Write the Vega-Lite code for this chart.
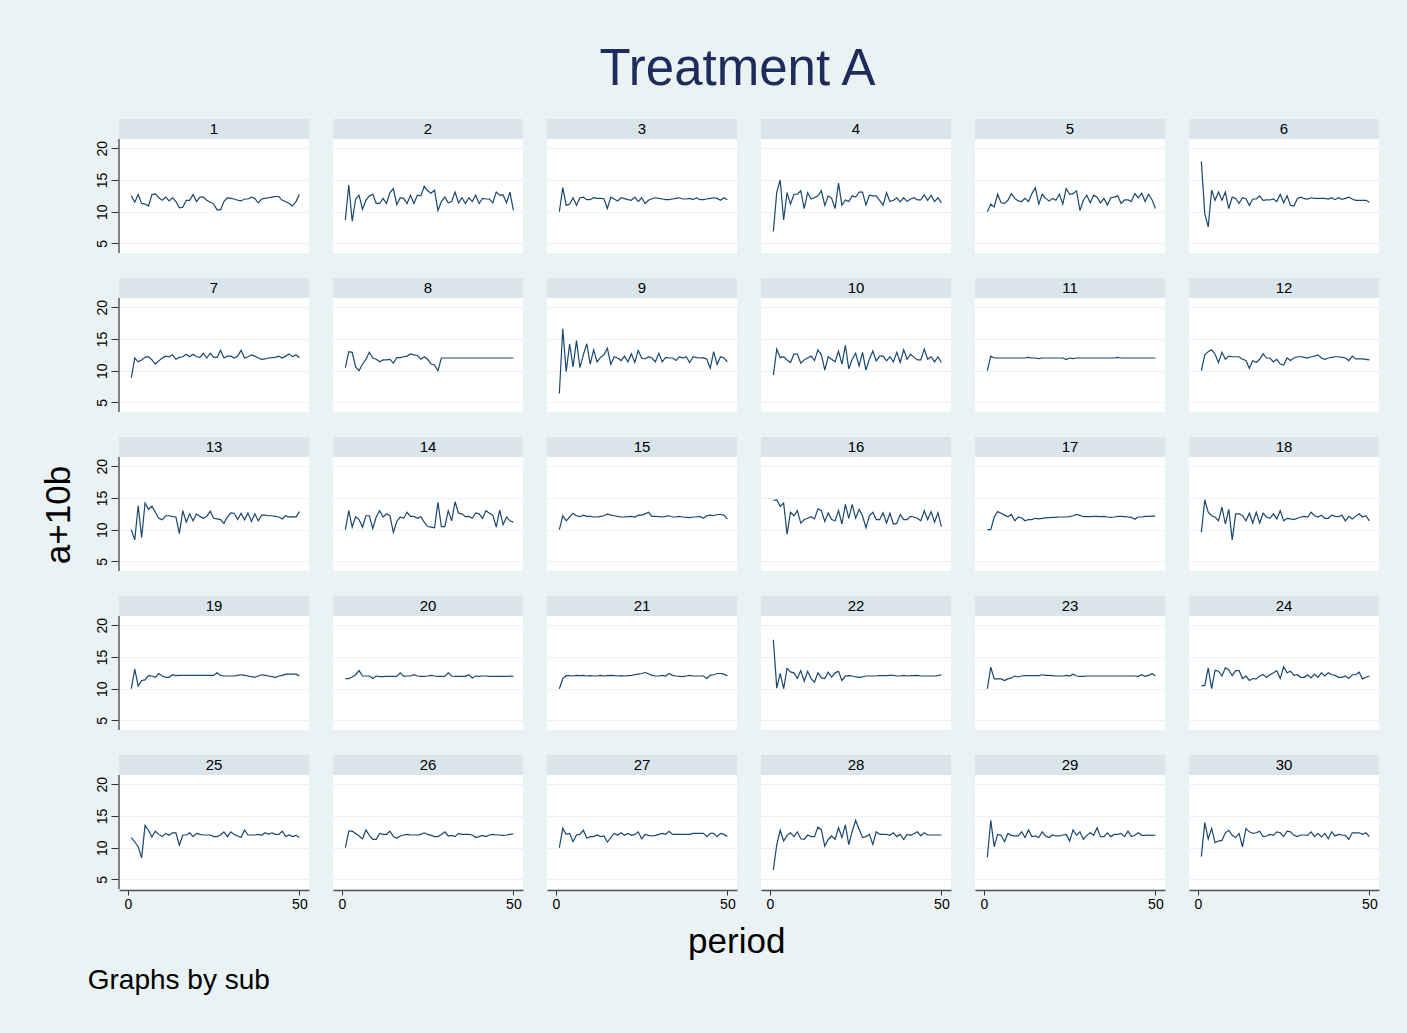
{
"$schema": "https://vega.github.io/schema/vega-lite/v6.json",
"background": "#eaf2f3",
"padding": {"left": 42, "top": 44, "right": 28, "bottom": 40},
"config": {
  "font": "Liberation Sans",
  "view": {"stroke": null, "fill": "#ffffff"},
  "axisY": {"grid": true, "gridColor": "#eaf2f3", "gridWidth": 1.2, "domain": false, "tickColor": "#333333", "tickSize": 7, "tickWidth": 1, "labelAngle": 270, "labelAlign": "center", "labelBaseline": "bottom", "labelFontSize": 14, "labelColor": "#000000", "labelPadding": 2},
  "axisX": {"grid": false, "domain": true, "domainColor": "#555555", "domainWidth": 1.5, "tickColor": "#333333", "tickSize": 5, "tickWidth": 1, "labelFontSize": 14, "labelColor": "#000000", "labelPadding": 2}
},
"title": {"text": "Treatment A", "fontSize": 51, "fontWeight": "normal", "color": "#1d2c5b", "anchor": "middle", "offset": 23, "dx": 27},
"data": {"values": [
{"sub":1,"period":1,"value":12.5},{"sub":1,"period":2,"value":11.5},{"sub":1,"period":3,"value":12.7},{"sub":1,"period":4,"value":11.3},{"sub":1,"period":5,"value":11.2},{"sub":1,"period":6,"value":10.9},{"sub":1,"period":7,"value":12.7},{"sub":1,"period":8,"value":12.8},{"sub":1,"period":9,"value":12.2},{"sub":1,"period":10,"value":11.8},
{"sub":1,"period":11,"value":12.3},{"sub":1,"period":12,"value":11.7},{"sub":1,"period":13,"value":12.2},{"sub":1,"period":14,"value":11.6},{"sub":1,"period":15,"value":10.6},{"sub":1,"period":16,"value":10.7},{"sub":1,"period":17,"value":11.8},{"sub":1,"period":18,"value":11.8},{"sub":1,"period":19,"value":12.7},{"sub":1,"period":20,"value":11.6},
{"sub":1,"period":21,"value":12.3},{"sub":1,"period":22,"value":12.3},{"sub":1,"period":23,"value":11.8},{"sub":1,"period":24,"value":11.5},{"sub":1,"period":25,"value":11.2},{"sub":1,"period":26,"value":10.3},{"sub":1,"period":27,"value":10.3},{"sub":1,"period":28,"value":11.6},{"sub":1,"period":29,"value":12.2},{"sub":1,"period":30,"value":12.1},
{"sub":1,"period":31,"value":12.0},{"sub":1,"period":32,"value":11.8},{"sub":1,"period":33,"value":11.7},{"sub":1,"period":34,"value":12.0},{"sub":1,"period":35,"value":12.0},{"sub":1,"period":36,"value":12.3},{"sub":1,"period":37,"value":12.1},{"sub":1,"period":38,"value":11.4},{"sub":1,"period":39,"value":12.0},{"sub":1,"period":40,"value":12.1},
{"sub":1,"period":41,"value":12.2},{"sub":1,"period":42,"value":12.3},{"sub":1,"period":43,"value":12.4},{"sub":1,"period":44,"value":12.4},{"sub":1,"period":45,"value":11.8},{"sub":1,"period":46,"value":11.6},{"sub":1,"period":47,"value":11.3},{"sub":1,"period":48,"value":10.9},{"sub":1,"period":49,"value":11.6},{"sub":1,"period":50,"value":12.7},
{"sub":2,"period":1,"value":8.7},{"sub":2,"period":2,"value":14.2},{"sub":2,"period":3,"value":8.5},{"sub":2,"period":4,"value":12.0},{"sub":2,"period":5,"value":12.6},{"sub":2,"period":6,"value":10.4},{"sub":2,"period":7,"value":11.8},{"sub":2,"period":8,"value":12.5},{"sub":2,"period":9,"value":12.75},{"sub":2,"period":10,"value":11.3},
{"sub":2,"period":11,"value":11.3},{"sub":2,"period":12,"value":12.1},{"sub":2,"period":13,"value":11.3},{"sub":2,"period":14,"value":13.0},{"sub":2,"period":15,"value":13.65},{"sub":2,"period":16,"value":11.1},{"sub":2,"period":17,"value":12.2},{"sub":2,"period":18,"value":12.1},{"sub":2,"period":19,"value":11.3},{"sub":2,"period":20,"value":12.6},
{"sub":2,"period":21,"value":11.3},{"sub":2,"period":22,"value":12.6},{"sub":2,"period":23,"value":12.5},{"sub":2,"period":24,"value":14.0},{"sub":2,"period":25,"value":13.3},{"sub":2,"period":26,"value":12.9},{"sub":2,"period":27,"value":13.4},{"sub":2,"period":28,"value":10.2},{"sub":2,"period":29,"value":11.6},{"sub":2,"period":30,"value":12.3},
{"sub":2,"period":31,"value":11.4},{"sub":2,"period":32,"value":11.6},{"sub":2,"period":33,"value":13.1},{"sub":2,"period":34,"value":11.4},{"sub":2,"period":35,"value":12.2},{"sub":2,"period":36,"value":11.3},{"sub":2,"period":37,"value":12.2},{"sub":2,"period":38,"value":11.6},{"sub":2,"period":39,"value":12.6},{"sub":2,"period":40,"value":11.3},
{"sub":2,"period":41,"value":12.1},{"sub":2,"period":42,"value":12.0},{"sub":2,"period":43,"value":12.0},{"sub":2,"period":44,"value":11.4},{"sub":2,"period":45,"value":13.1},{"sub":2,"period":46,"value":12.6},{"sub":2,"period":47,"value":12.65},{"sub":2,"period":48,"value":11.4},{"sub":2,"period":49,"value":13.1},{"sub":2,"period":50,"value":10.2},
{"sub":3,"period":1,"value":10.0},{"sub":3,"period":2,"value":13.8},{"sub":3,"period":3,"value":11.0},{"sub":3,"period":4,"value":11.2},{"sub":3,"period":5,"value":12.2},{"sub":3,"period":6,"value":11.0},{"sub":3,"period":7,"value":12.2},{"sub":3,"period":8,"value":12.3},{"sub":3,"period":9,"value":11.9},{"sub":3,"period":10,"value":11.9},
{"sub":3,"period":11,"value":12.2},{"sub":3,"period":12,"value":12.1},{"sub":3,"period":13,"value":12.1},{"sub":3,"period":14,"value":12.05},{"sub":3,"period":15,"value":10.5},{"sub":3,"period":16,"value":12.3},{"sub":3,"period":17,"value":12.0},{"sub":3,"period":18,"value":11.7},{"sub":3,"period":19,"value":12.2},{"sub":3,"period":20,"value":12.05},
{"sub":3,"period":21,"value":11.9},{"sub":3,"period":22,"value":11.8},{"sub":3,"period":23,"value":12.3},{"sub":3,"period":24,"value":11.6},{"sub":3,"period":25,"value":12.2},{"sub":3,"period":26,"value":11.3},{"sub":3,"period":27,"value":11.8},{"sub":3,"period":28,"value":12.05},{"sub":3,"period":29,"value":12.2},{"sub":3,"period":30,"value":12.1},
{"sub":3,"period":31,"value":12.0},{"sub":3,"period":32,"value":11.9},{"sub":3,"period":33,"value":11.9},{"sub":3,"period":34,"value":12.0},{"sub":3,"period":35,"value":12.1},{"sub":3,"period":36,"value":12.2},{"sub":3,"period":37,"value":12.0},{"sub":3,"period":38,"value":12.0},{"sub":3,"period":39,"value":12.1},{"sub":3,"period":40,"value":11.9},
{"sub":3,"period":41,"value":12.2},{"sub":3,"period":42,"value":11.9},{"sub":3,"period":43,"value":11.9},{"sub":3,"period":44,"value":12.0},{"sub":3,"period":45,"value":12.1},{"sub":3,"period":46,"value":12.2},{"sub":3,"period":47,"value":12.1},{"sub":3,"period":48,"value":11.8},{"sub":3,"period":49,"value":12.2},{"sub":3,"period":50,"value":11.9},
{"sub":4,"period":1,"value":6.9},{"sub":4,"period":2,"value":13.1},{"sub":4,"period":3,"value":15.0},{"sub":4,"period":4,"value":8.7},{"sub":4,"period":5,"value":13.0},{"sub":4,"period":6,"value":11.2},{"sub":4,"period":7,"value":12.75},{"sub":4,"period":8,"value":12.75},{"sub":4,"period":9,"value":13.3},{"sub":4,"period":10,"value":10.5},
{"sub":4,"period":11,"value":13.0},{"sub":4,"period":12,"value":12.0},{"sub":4,"period":13,"value":12.2},{"sub":4,"period":14,"value":12.5},{"sub":4,"period":15,"value":13.3},{"sub":4,"period":16,"value":11.0},{"sub":4,"period":17,"value":12.5},{"sub":4,"period":18,"value":12.1},{"sub":4,"period":19,"value":10.5},{"sub":4,"period":20,"value":14.5},
{"sub":4,"period":21,"value":11.0},{"sub":4,"period":22,"value":11.85},{"sub":4,"period":23,"value":11.6},{"sub":4,"period":24,"value":12.5},{"sub":4,"period":25,"value":12.3},{"sub":4,"period":26,"value":13.1},{"sub":4,"period":27,"value":13.1},{"sub":4,"period":28,"value":11.05},{"sub":4,"period":29,"value":12.6},{"sub":4,"period":30,"value":12.5},
{"sub":4,"period":31,"value":12.5},{"sub":4,"period":32,"value":11.8},{"sub":4,"period":33,"value":11.05},{"sub":4,"period":34,"value":13.0},{"sub":4,"period":35,"value":11.6},{"sub":4,"period":36,"value":11.8},{"sub":4,"period":37,"value":12.2},{"sub":4,"period":38,"value":11.55},{"sub":4,"period":39,"value":12.2},{"sub":4,"period":40,"value":11.6},
{"sub":4,"period":41,"value":12.0},{"sub":4,"period":42,"value":12.2},{"sub":4,"period":43,"value":11.85},{"sub":4,"period":44,"value":11.85},{"sub":4,"period":45,"value":12.65},{"sub":4,"period":46,"value":11.8},{"sub":4,"period":47,"value":12.6},{"sub":4,"period":48,"value":11.6},{"sub":4,"period":49,"value":12.2},{"sub":4,"period":50,"value":11.4},
{"sub":5,"period":1,"value":10.0},{"sub":5,"period":2,"value":11.2},{"sub":5,"period":3,"value":10.75},{"sub":5,"period":4,"value":12.75},{"sub":5,"period":5,"value":11.4},{"sub":5,"period":6,"value":11.3},{"sub":5,"period":7,"value":11.8},{"sub":5,"period":8,"value":12.85},{"sub":5,"period":9,"value":12.1},{"sub":5,"period":10,"value":11.7},
{"sub":5,"period":11,"value":11.6},{"sub":5,"period":12,"value":12.1},{"sub":5,"period":13,"value":11.6},{"sub":5,"period":14,"value":12.85},{"sub":5,"period":15,"value":13.8},{"sub":5,"period":16,"value":11.2},{"sub":5,"period":17,"value":12.75},{"sub":5,"period":18,"value":12.1},{"sub":5,"period":19,"value":11.7},{"sub":5,"period":20,"value":12.1},
{"sub":5,"period":21,"value":11.8},{"sub":5,"period":22,"value":12.75},{"sub":5,"period":23,"value":11.2},{"sub":5,"period":24,"value":13.65},{"sub":5,"period":25,"value":12.75},{"sub":5,"period":26,"value":12.85},{"sub":5,"period":27,"value":13.3},{"sub":5,"period":28,"value":10.2},{"sub":5,"period":29,"value":11.8},{"sub":5,"period":30,"value":12.6},
{"sub":5,"period":31,"value":11.4},{"sub":5,"period":32,"value":12.6},{"sub":5,"period":33,"value":12.3},{"sub":5,"period":34,"value":11.4},{"sub":5,"period":35,"value":12.1},{"sub":5,"period":36,"value":11.05},{"sub":5,"period":37,"value":12.2},{"sub":5,"period":38,"value":12.3},{"sub":5,"period":39,"value":12.5},{"sub":5,"period":40,"value":11.3},
{"sub":5,"period":41,"value":11.85},{"sub":5,"period":42,"value":11.85},{"sub":5,"period":43,"value":11.6},{"sub":5,"period":44,"value":12.85},{"sub":5,"period":45,"value":12.2},{"sub":5,"period":46,"value":12.9},{"sub":5,"period":47,"value":11.6},{"sub":5,"period":48,"value":12.75},{"sub":5,"period":49,"value":11.9},{"sub":5,"period":50,"value":10.5},
{"sub":6,"period":1,"value":17.9},{"sub":6,"period":2,"value":9.7},{"sub":6,"period":3,"value":7.6},{"sub":6,"period":4,"value":13.4},{"sub":6,"period":5,"value":11.8},{"sub":6,"period":6,"value":13.1},{"sub":6,"period":7,"value":11.8},{"sub":6,"period":8,"value":13.1},{"sub":6,"period":9,"value":10.5},{"sub":6,"period":10,"value":12.3},
{"sub":6,"period":11,"value":12.1},{"sub":6,"period":12,"value":11.3},{"sub":6,"period":13,"value":12.2},{"sub":6,"period":14,"value":12.05},{"sub":6,"period":15,"value":11.0},{"sub":6,"period":16,"value":12.0},{"sub":6,"period":17,"value":12.0},{"sub":6,"period":18,"value":12.5},{"sub":6,"period":19,"value":11.8},{"sub":6,"period":20,"value":11.85},
{"sub":6,"period":21,"value":11.85},{"sub":6,"period":22,"value":12.0},{"sub":6,"period":23,"value":11.6},{"sub":6,"period":24,"value":12.75},{"sub":6,"period":25,"value":11.4},{"sub":6,"period":26,"value":12.5},{"sub":6,"period":27,"value":11.0},{"sub":6,"period":28,"value":10.9},{"sub":6,"period":29,"value":12.1},{"sub":6,"period":30,"value":12.3},
{"sub":6,"period":31,"value":12.05},{"sub":6,"period":32,"value":12.0},{"sub":6,"period":33,"value":12.2},{"sub":6,"period":34,"value":12.1},{"sub":6,"period":35,"value":12.1},{"sub":6,"period":36,"value":12.1},{"sub":6,"period":37,"value":12.1},{"sub":6,"period":38,"value":12.0},{"sub":6,"period":39,"value":12.2},{"sub":6,"period":40,"value":11.9},
{"sub":6,"period":41,"value":12.2},{"sub":6,"period":42,"value":11.95},{"sub":6,"period":43,"value":12.1},{"sub":6,"period":44,"value":12.3},{"sub":6,"period":45,"value":12.0},{"sub":6,"period":46,"value":11.8},{"sub":6,"period":47,"value":11.8},{"sub":6,"period":48,"value":11.8},{"sub":6,"period":49,"value":11.8},{"sub":6,"period":50,"value":11.5},
{"sub":7,"period":1,"value":8.9},{"sub":7,"period":2,"value":12.0},{"sub":7,"period":3,"value":11.4},{"sub":7,"period":4,"value":11.7},{"sub":7,"period":5,"value":12.1},{"sub":7,"period":6,"value":12.2},{"sub":7,"period":7,"value":11.7},{"sub":7,"period":8,"value":11.05},{"sub":7,"period":9,"value":11.55},{"sub":7,"period":10,"value":12.0},
{"sub":7,"period":11,"value":12.3},{"sub":7,"period":12,"value":12.2},{"sub":7,"period":13,"value":12.5},{"sub":7,"period":14,"value":11.8},{"sub":7,"period":15,"value":12.1},{"sub":7,"period":16,"value":12.2},{"sub":7,"period":17,"value":12.6},{"sub":7,"period":18,"value":12.2},{"sub":7,"period":19,"value":12.6},{"sub":7,"period":20,"value":12.2},
{"sub":7,"period":21,"value":12.1},{"sub":7,"period":22,"value":12.75},{"sub":7,"period":23,"value":12.0},{"sub":7,"period":24,"value":12.75},{"sub":7,"period":25,"value":12.1},{"sub":7,"period":26,"value":12.1},{"sub":7,"period":27,"value":13.2},{"sub":7,"period":28,"value":12.0},{"sub":7,"period":29,"value":12.3},{"sub":7,"period":30,"value":12.3},
{"sub":7,"period":31,"value":12.0},{"sub":7,"period":32,"value":12.3},{"sub":7,"period":33,"value":13.2},{"sub":7,"period":34,"value":12.0},{"sub":7,"period":35,"value":12.2},{"sub":7,"period":36,"value":12.5},{"sub":7,"period":37,"value":12.3},{"sub":7,"period":38,"value":12.0},{"sub":7,"period":39,"value":11.8},{"sub":7,"period":40,"value":11.85},
{"sub":7,"period":41,"value":12.0},{"sub":7,"period":42,"value":12.05},{"sub":7,"period":43,"value":12.1},{"sub":7,"period":44,"value":12.3},{"sub":7,"period":45,"value":12.0},{"sub":7,"period":46,"value":12.3},{"sub":7,"period":47,"value":12.65},{"sub":7,"period":48,"value":12.2},{"sub":7,"period":49,"value":12.5},{"sub":7,"period":50,"value":12.05},
{"sub":8,"period":1,"value":10.5},{"sub":8,"period":2,"value":13.0},{"sub":8,"period":3,"value":12.9},{"sub":8,"period":4,"value":10.6},{"sub":8,"period":5,"value":10.0},{"sub":8,"period":6,"value":11.05},{"sub":8,"period":7,"value":11.8},{"sub":8,"period":8,"value":12.9},{"sub":8,"period":9,"value":12.0},{"sub":8,"period":10,"value":11.8},
{"sub":8,"period":11,"value":11.4},{"sub":8,"period":12,"value":11.7},{"sub":8,"period":13,"value":11.7},{"sub":8,"period":14,"value":11.8},{"sub":8,"period":15,"value":11.2},{"sub":8,"period":16,"value":12.05},{"sub":8,"period":17,"value":12.05},{"sub":8,"period":18,"value":12.2},{"sub":8,"period":19,"value":12.3},{"sub":8,"period":20,"value":12.65},
{"sub":8,"period":21,"value":12.5},{"sub":8,"period":22,"value":12.4},{"sub":8,"period":23,"value":11.8},{"sub":8,"period":24,"value":12.2},{"sub":8,"period":25,"value":11.8},{"sub":8,"period":26,"value":11.05},{"sub":8,"period":27,"value":10.9},{"sub":8,"period":28,"value":10.0},{"sub":8,"period":29,"value":12.0},{"sub":8,"period":30,"value":12.0},
{"sub":8,"period":31,"value":12.0},{"sub":8,"period":32,"value":12.0},{"sub":8,"period":33,"value":12.0},{"sub":8,"period":34,"value":12.0},{"sub":8,"period":35,"value":12.0},{"sub":8,"period":36,"value":12.0},{"sub":8,"period":37,"value":12.0},{"sub":8,"period":38,"value":12.0},{"sub":8,"period":39,"value":12.0},{"sub":8,"period":40,"value":12.0},
{"sub":8,"period":41,"value":12.0},{"sub":8,"period":42,"value":12.0},{"sub":8,"period":43,"value":12.0},{"sub":8,"period":44,"value":12.0},{"sub":8,"period":45,"value":12.0},{"sub":8,"period":46,"value":12.0},{"sub":8,"period":47,"value":12.0},{"sub":8,"period":48,"value":12.0},{"sub":8,"period":49,"value":12.0},{"sub":8,"period":50,"value":12.0},
{"sub":9,"period":1,"value":6.4},{"sub":9,"period":2,"value":16.6},{"sub":9,"period":3,"value":9.85},{"sub":9,"period":4,"value":14.2},{"sub":9,"period":5,"value":10.6},{"sub":9,"period":6,"value":14.75},{"sub":9,"period":7,"value":10.5},{"sub":9,"period":8,"value":12.5},{"sub":9,"period":9,"value":14.25},{"sub":9,"period":10,"value":11.05},
{"sub":9,"period":11,"value":13.3},{"sub":9,"period":12,"value":11.4},{"sub":9,"period":13,"value":12.1},{"sub":9,"period":14,"value":12.5},{"sub":9,"period":15,"value":13.55},{"sub":9,"period":16,"value":11.0},{"sub":9,"period":17,"value":12.2},{"sub":9,"period":18,"value":12.0},{"sub":9,"period":19,"value":11.6},{"sub":9,"period":20,"value":12.3},
{"sub":9,"period":21,"value":11.4},{"sub":9,"period":22,"value":12.65},{"sub":9,"period":23,"value":11.3},{"sub":9,"period":24,"value":13.2},{"sub":9,"period":25,"value":12.0},{"sub":9,"period":26,"value":11.85},{"sub":9,"period":27,"value":12.2},{"sub":9,"period":28,"value":12.0},{"sub":9,"period":29,"value":11.4},{"sub":9,"period":30,"value":12.75},
{"sub":9,"period":31,"value":11.4},{"sub":9,"period":32,"value":12.1},{"sub":9,"period":33,"value":12.0},{"sub":9,"period":34,"value":12.0},{"sub":9,"period":35,"value":11.6},{"sub":9,"period":36,"value":12.2},{"sub":9,"period":37,"value":12.0},{"sub":9,"period":38,"value":12.2},{"sub":9,"period":39,"value":11.3},{"sub":9,"period":40,"value":12.2},
{"sub":9,"period":41,"value":12.05},{"sub":9,"period":42,"value":12.0},{"sub":9,"period":43,"value":12.05},{"sub":9,"period":44,"value":11.8},{"sub":9,"period":45,"value":10.4},{"sub":9,"period":46,"value":13.0},{"sub":9,"period":47,"value":11.0},{"sub":9,"period":48,"value":12.2},{"sub":9,"period":49,"value":12.0},{"sub":9,"period":50,"value":11.4},
{"sub":10,"period":1,"value":9.3},{"sub":10,"period":2,"value":13.4},{"sub":10,"period":3,"value":12.05},{"sub":10,"period":4,"value":12.2},{"sub":10,"period":5,"value":11.7},{"sub":10,"period":6,"value":11.3},{"sub":10,"period":7,"value":12.6},{"sub":10,"period":8,"value":12.6},{"sub":10,"period":9,"value":11.2},{"sub":10,"period":10,"value":11.7},
{"sub":10,"period":11,"value":12.0},{"sub":10,"period":12,"value":12.3},{"sub":10,"period":13,"value":11.6},{"sub":10,"period":14,"value":13.3},{"sub":10,"period":15,"value":12.5},{"sub":10,"period":16,"value":10.1},{"sub":10,"period":17,"value":12.2},{"sub":10,"period":18,"value":11.8},{"sub":10,"period":19,"value":11.4},{"sub":10,"period":20,"value":13.1},
{"sub":10,"period":21,"value":11.05},{"sub":10,"period":22,"value":14.0},{"sub":10,"period":23,"value":10.3},{"sub":10,"period":24,"value":11.8},{"sub":10,"period":25,"value":12.75},{"sub":10,"period":26,"value":10.75},{"sub":10,"period":27,"value":12.9},{"sub":10,"period":28,"value":10.1},{"sub":10,"period":29,"value":11.8},{"sub":10,"period":30,"value":13.1},
{"sub":10,"period":31,"value":11.55},{"sub":10,"period":32,"value":12.3},{"sub":10,"period":33,"value":12.3},{"sub":10,"period":34,"value":11.55},{"sub":10,"period":35,"value":12.2},{"sub":10,"period":36,"value":11.4},{"sub":10,"period":37,"value":12.9},{"sub":10,"period":38,"value":11.3},{"sub":10,"period":39,"value":13.3},{"sub":10,"period":40,"value":11.8},
{"sub":10,"period":41,"value":12.6},{"sub":10,"period":42,"value":12.1},{"sub":10,"period":43,"value":11.7},{"sub":10,"period":44,"value":11.7},{"sub":10,"period":45,"value":13.4},{"sub":10,"period":46,"value":11.8},{"sub":10,"period":47,"value":12.2},{"sub":10,"period":48,"value":11.4},{"sub":10,"period":49,"value":12.2},{"sub":10,"period":50,"value":11.3},
{"sub":11,"period":1,"value":10.0},{"sub":11,"period":2,"value":12.3},{"sub":11,"period":3,"value":12.0},{"sub":11,"period":4,"value":12.0},{"sub":11,"period":5,"value":12.0},{"sub":11,"period":6,"value":12.0},{"sub":11,"period":7,"value":12.0},{"sub":11,"period":8,"value":12.0},{"sub":11,"period":9,"value":12.0},{"sub":11,"period":10,"value":12.0},
{"sub":11,"period":11,"value":12.0},{"sub":11,"period":12,"value":12.0},{"sub":11,"period":13,"value":12.1},{"sub":11,"period":14,"value":12.0},{"sub":11,"period":15,"value":12.0},{"sub":11,"period":16,"value":11.9},{"sub":11,"period":17,"value":12.0},{"sub":11,"period":18,"value":12.0},{"sub":11,"period":19,"value":12.0},{"sub":11,"period":20,"value":12.0},
{"sub":11,"period":21,"value":12.0},{"sub":11,"period":22,"value":12.0},{"sub":11,"period":23,"value":12.0},{"sub":11,"period":24,"value":11.75},{"sub":11,"period":25,"value":12.0},{"sub":11,"period":26,"value":11.9},{"sub":11,"period":27,"value":12.0},{"sub":11,"period":28,"value":12.0},{"sub":11,"period":29,"value":12.0},{"sub":11,"period":30,"value":12.0},
{"sub":11,"period":31,"value":12.0},{"sub":11,"period":32,"value":12.0},{"sub":11,"period":33,"value":12.0},{"sub":11,"period":34,"value":12.0},{"sub":11,"period":35,"value":12.0},{"sub":11,"period":36,"value":12.0},{"sub":11,"period":37,"value":12.0},{"sub":11,"period":38,"value":12.0},{"sub":11,"period":39,"value":12.1},{"sub":11,"period":40,"value":12.0},
{"sub":11,"period":41,"value":12.0},{"sub":11,"period":42,"value":12.0},{"sub":11,"period":43,"value":12.0},{"sub":11,"period":44,"value":12.0},{"sub":11,"period":45,"value":12.0},{"sub":11,"period":46,"value":12.0},{"sub":11,"period":47,"value":12.0},{"sub":11,"period":48,"value":12.0},{"sub":11,"period":49,"value":12.0},{"sub":11,"period":50,"value":12.0},
{"sub":12,"period":1,"value":10.0},{"sub":12,"period":2,"value":12.5},{"sub":12,"period":3,"value":13.0},{"sub":12,"period":4,"value":13.3},{"sub":12,"period":5,"value":12.6},{"sub":12,"period":6,"value":11.3},{"sub":12,"period":7,"value":12.9},{"sub":12,"period":8,"value":11.8},{"sub":12,"period":9,"value":12.3},{"sub":12,"period":10,"value":12.2},
{"sub":12,"period":11,"value":12.2},{"sub":12,"period":12,"value":12.2},{"sub":12,"period":13,"value":11.8},{"sub":12,"period":14,"value":11.6},{"sub":12,"period":15,"value":10.4},{"sub":12,"period":16,"value":11.6},{"sub":12,"period":17,"value":11.3},{"sub":12,"period":18,"value":11.8},{"sub":12,"period":19,"value":12.65},{"sub":12,"period":20,"value":12.0},
{"sub":12,"period":21,"value":12.0},{"sub":12,"period":22,"value":11.4},{"sub":12,"period":23,"value":11.8},{"sub":12,"period":24,"value":11.05},{"sub":12,"period":25,"value":10.9},{"sub":12,"period":26,"value":12.0},{"sub":12,"period":27,"value":11.6},{"sub":12,"period":28,"value":12.0},{"sub":12,"period":29,"value":12.2},{"sub":12,"period":30,"value":12.2},
{"sub":12,"period":31,"value":12.1},{"sub":12,"period":32,"value":12.0},{"sub":12,"period":33,"value":12.2},{"sub":12,"period":34,"value":12.3},{"sub":12,"period":35,"value":12.5},{"sub":12,"period":36,"value":12.0},{"sub":12,"period":37,"value":11.8},{"sub":12,"period":38,"value":12.0},{"sub":12,"period":39,"value":12.1},{"sub":12,"period":40,"value":12.2},
{"sub":12,"period":41,"value":12.2},{"sub":12,"period":42,"value":12.1},{"sub":12,"period":43,"value":12.0},{"sub":12,"period":44,"value":11.6},{"sub":12,"period":45,"value":12.3},{"sub":12,"period":46,"value":11.85},{"sub":12,"period":47,"value":11.85},{"sub":12,"period":48,"value":11.85},{"sub":12,"period":49,"value":11.8},{"sub":12,"period":50,"value":11.7},
{"sub":13,"period":1,"value":10.0},{"sub":13,"period":2,"value":8.4},{"sub":13,"period":3,"value":13.8},{"sub":13,"period":4,"value":8.8},{"sub":13,"period":5,"value":14.2},{"sub":13,"period":6,"value":13.2},{"sub":13,"period":7,"value":13.7},{"sub":13,"period":8,"value":12.75},{"sub":13,"period":9,"value":11.8},{"sub":13,"period":10,"value":11.55},
{"sub":13,"period":11,"value":12.2},{"sub":13,"period":12,"value":12.2},{"sub":13,"period":13,"value":12.05},{"sub":13,"period":14,"value":12.0},{"sub":13,"period":15,"value":9.4},{"sub":13,"period":16,"value":13.0},{"sub":13,"period":17,"value":11.2},{"sub":13,"period":18,"value":12.5},{"sub":13,"period":19,"value":11.4},{"sub":13,"period":20,"value":12.5},
{"sub":13,"period":21,"value":12.1},{"sub":13,"period":22,"value":11.8},{"sub":13,"period":23,"value":12.1},{"sub":13,"period":24,"value":12.9},{"sub":13,"period":25,"value":11.8},{"sub":13,"period":26,"value":11.7},{"sub":13,"period":27,"value":11.6},{"sub":13,"period":28,"value":11.0},{"sub":13,"period":29,"value":12.0},{"sub":13,"period":30,"value":12.65},
{"sub":13,"period":31,"value":12.6},{"sub":13,"period":32,"value":11.6},{"sub":13,"period":33,"value":12.6},{"sub":13,"period":34,"value":11.55},{"sub":13,"period":35,"value":12.65},{"sub":13,"period":36,"value":11.3},{"sub":13,"period":37,"value":12.5},{"sub":13,"period":38,"value":11.4},{"sub":13,"period":39,"value":12.3},{"sub":13,"period":40,"value":12.3},
{"sub":13,"period":41,"value":12.2},{"sub":13,"period":42,"value":12.2},{"sub":13,"period":43,"value":12.1},{"sub":13,"period":44,"value":12.0},{"sub":13,"period":45,"value":11.7},{"sub":13,"period":46,"value":12.2},{"sub":13,"period":47,"value":12.0},{"sub":13,"period":48,"value":12.05},{"sub":13,"period":49,"value":12.0},{"sub":13,"period":50,"value":12.85},
{"sub":14,"period":1,"value":10.0},{"sub":14,"period":2,"value":13.0},{"sub":14,"period":3,"value":10.4},{"sub":14,"period":4,"value":12.05},{"sub":14,"period":5,"value":11.6},{"sub":14,"period":6,"value":10.4},{"sub":14,"period":7,"value":12.2},{"sub":14,"period":8,"value":12.2},{"sub":14,"period":9,"value":10.2},{"sub":14,"period":10,"value":12.0},
{"sub":14,"period":11,"value":13.0},{"sub":14,"period":12,"value":12.0},{"sub":14,"period":13,"value":12.5},{"sub":14,"period":14,"value":12.2},{"sub":14,"period":15,"value":9.6},{"sub":14,"period":16,"value":11.3},{"sub":14,"period":17,"value":12.0},{"sub":14,"period":18,"value":11.8},{"sub":14,"period":19,"value":12.75},{"sub":14,"period":20,"value":12.1},
{"sub":14,"period":21,"value":12.1},{"sub":14,"period":22,"value":11.8},{"sub":14,"period":23,"value":12.05},{"sub":14,"period":24,"value":11.2},{"sub":14,"period":25,"value":10.5},{"sub":14,"period":26,"value":10.4},{"sub":14,"period":27,"value":10.3},{"sub":14,"period":28,"value":14.3},{"sub":14,"period":29,"value":10.5},{"sub":14,"period":30,"value":10.5},
{"sub":14,"period":31,"value":13.0},{"sub":14,"period":32,"value":11.4},{"sub":14,"period":33,"value":14.4},{"sub":14,"period":34,"value":12.6},{"sub":14,"period":35,"value":12.5},{"sub":14,"period":36,"value":12.05},{"sub":14,"period":37,"value":12.1},{"sub":14,"period":38,"value":11.8},{"sub":14,"period":39,"value":12.65},{"sub":14,"period":40,"value":12.5},
{"sub":14,"period":41,"value":11.8},{"sub":14,"period":42,"value":13.0},{"sub":14,"period":43,"value":12.6},{"sub":14,"period":44,"value":12.3},{"sub":14,"period":45,"value":10.4},{"sub":14,"period":46,"value":13.1},{"sub":14,"period":47,"value":10.8},{"sub":14,"period":48,"value":12.0},{"sub":14,"period":49,"value":11.4},{"sub":14,"period":50,"value":11.2},
{"sub":15,"period":1,"value":10.0},{"sub":15,"period":2,"value":12.2},{"sub":15,"period":3,"value":11.4},{"sub":15,"period":4,"value":12.0},{"sub":15,"period":5,"value":12.6},{"sub":15,"period":6,"value":12.2},{"sub":15,"period":7,"value":12.05},{"sub":15,"period":8,"value":12.3},{"sub":15,"period":9,"value":12.1},{"sub":15,"period":10,"value":12.1},
{"sub":15,"period":11,"value":12.0},{"sub":15,"period":12,"value":12.0},{"sub":15,"period":13,"value":12.1},{"sub":15,"period":14,"value":12.2},{"sub":15,"period":15,"value":12.5},{"sub":15,"period":16,"value":12.3},{"sub":15,"period":17,"value":12.2},{"sub":15,"period":18,"value":12.1},{"sub":15,"period":19,"value":12.0},{"sub":15,"period":20,"value":12.0},
{"sub":15,"period":21,"value":12.05},{"sub":15,"period":22,"value":12.1},{"sub":15,"period":23,"value":12.0},{"sub":15,"period":24,"value":12.3},{"sub":15,"period":25,"value":12.3},{"sub":15,"period":26,"value":12.5},{"sub":15,"period":27,"value":12.75},{"sub":15,"period":28,"value":12.1},{"sub":15,"period":29,"value":12.1},{"sub":15,"period":30,"value":12.05},
{"sub":15,"period":31,"value":12.0},{"sub":15,"period":32,"value":12.1},{"sub":15,"period":33,"value":12.2},{"sub":15,"period":34,"value":12.0},{"sub":15,"period":35,"value":12.0},{"sub":15,"period":36,"value":12.1},{"sub":15,"period":37,"value":12.0},{"sub":15,"period":38,"value":11.95},{"sub":15,"period":39,"value":11.9},{"sub":15,"period":40,"value":12.0},
{"sub":15,"period":41,"value":12.0},{"sub":15,"period":42,"value":12.1},{"sub":15,"period":43,"value":11.8},{"sub":15,"period":44,"value":12.2},{"sub":15,"period":45,"value":12.3},{"sub":15,"period":46,"value":12.2},{"sub":15,"period":47,"value":12.4},{"sub":15,"period":48,"value":12.4},{"sub":15,"period":49,"value":12.3},{"sub":15,"period":50,"value":11.7},
{"sub":16,"period":1,"value":14.6},{"sub":16,"period":2,"value":14.7},{"sub":16,"period":3,"value":13.7},{"sub":16,"period":4,"value":14.2},{"sub":16,"period":5,"value":9.3},{"sub":16,"period":6,"value":12.75},{"sub":16,"period":7,"value":12.2},{"sub":16,"period":8,"value":13.0},{"sub":16,"period":9,"value":11.05},{"sub":16,"period":10,"value":11.6},
{"sub":16,"period":11,"value":11.8},{"sub":16,"period":12,"value":12.05},{"sub":16,"period":13,"value":11.7},{"sub":16,"period":14,"value":13.3},{"sub":16,"period":15,"value":13.0},{"sub":16,"period":16,"value":11.3},{"sub":16,"period":17,"value":12.65},{"sub":16,"period":18,"value":11.6},{"sub":16,"period":19,"value":11.4},{"sub":16,"period":20,"value":13.0},
{"sub":16,"period":21,"value":10.9},{"sub":16,"period":22,"value":14.0},{"sub":16,"period":23,"value":11.8},{"sub":16,"period":24,"value":14.0},{"sub":16,"period":25,"value":11.8},{"sub":16,"period":26,"value":13.2},{"sub":16,"period":27,"value":12.2},{"sub":16,"period":28,"value":10.3},{"sub":16,"period":29,"value":12.2},{"sub":16,"period":30,"value":12.75},
{"sub":16,"period":31,"value":11.6},{"sub":16,"period":32,"value":11.6},{"sub":16,"period":33,"value":12.65},{"sub":16,"period":34,"value":11.05},{"sub":16,"period":35,"value":12.6},{"sub":16,"period":36,"value":10.9},{"sub":16,"period":37,"value":11.0},{"sub":16,"period":38,"value":12.4},{"sub":16,"period":39,"value":11.6},{"sub":16,"period":40,"value":11.6},
{"sub":16,"period":41,"value":12.1},{"sub":16,"period":42,"value":12.0},{"sub":16,"period":43,"value":11.8},{"sub":16,"period":44,"value":11.4},{"sub":16,"period":45,"value":13.0},{"sub":16,"period":46,"value":11.6},{"sub":16,"period":47,"value":12.85},{"sub":16,"period":48,"value":11.2},{"sub":16,"period":49,"value":12.65},{"sub":16,"period":50,"value":10.5},
{"sub":17,"period":1,"value":10.0},{"sub":17,"period":2,"value":10.0},{"sub":17,"period":3,"value":12.0},{"sub":17,"period":4,"value":12.85},{"sub":17,"period":5,"value":12.6},{"sub":17,"period":6,"value":12.3},{"sub":17,"period":7,"value":12.05},{"sub":17,"period":8,"value":12.4},{"sub":17,"period":9,"value":11.4},{"sub":17,"period":10,"value":12.0},
{"sub":17,"period":11,"value":11.85},{"sub":17,"period":12,"value":11.4},{"sub":17,"period":13,"value":11.6},{"sub":17,"period":14,"value":11.6},{"sub":17,"period":15,"value":11.8},{"sub":17,"period":16,"value":11.7},{"sub":17,"period":17,"value":11.8},{"sub":17,"period":18,"value":11.85},{"sub":17,"period":19,"value":11.9},{"sub":17,"period":20,"value":11.95},
{"sub":17,"period":21,"value":11.95},{"sub":17,"period":22,"value":12.0},{"sub":17,"period":23,"value":12.0},{"sub":17,"period":24,"value":12.0},{"sub":17,"period":25,"value":12.05},{"sub":17,"period":26,"value":12.2},{"sub":17,"period":27,"value":12.4},{"sub":17,"period":28,"value":12.25},{"sub":17,"period":29,"value":12.05},{"sub":17,"period":30,"value":12.05},
{"sub":17,"period":31,"value":12.05},{"sub":17,"period":32,"value":12.1},{"sub":17,"period":33,"value":12.1},{"sub":17,"period":34,"value":12.05},{"sub":17,"period":35,"value":12.1},{"sub":17,"period":36,"value":12.0},{"sub":17,"period":37,"value":11.95},{"sub":17,"period":38,"value":12.0},{"sub":17,"period":39,"value":12.1},{"sub":17,"period":40,"value":12.1},
{"sub":17,"period":41,"value":12.05},{"sub":17,"period":42,"value":12.0},{"sub":17,"period":43,"value":11.95},{"sub":17,"period":44,"value":11.65},{"sub":17,"period":45,"value":12.0},{"sub":17,"period":46,"value":12.0},{"sub":17,"period":47,"value":12.1},{"sub":17,"period":48,"value":12.1},{"sub":17,"period":49,"value":12.15},{"sub":17,"period":50,"value":12.15},
{"sub":18,"period":1,"value":9.6},{"sub":18,"period":2,"value":14.7},{"sub":18,"period":3,"value":12.75},{"sub":18,"period":4,"value":12.2},{"sub":18,"period":5,"value":12.0},{"sub":18,"period":6,"value":11.4},{"sub":18,"period":7,"value":13.55},{"sub":18,"period":8,"value":10.9},{"sub":18,"period":9,"value":13.2},{"sub":18,"period":10,"value":8.4},
{"sub":18,"period":11,"value":12.5},{"sub":18,"period":12,"value":12.5},{"sub":18,"period":13,"value":12.2},{"sub":18,"period":14,"value":11.4},{"sub":18,"period":15,"value":12.6},{"sub":18,"period":16,"value":11.05},{"sub":18,"period":17,"value":12.75},{"sub":18,"period":18,"value":11.05},{"sub":18,"period":19,"value":12.6},{"sub":18,"period":20,"value":12.0},
{"sub":18,"period":21,"value":11.8},{"sub":18,"period":22,"value":12.5},{"sub":18,"period":23,"value":11.7},{"sub":18,"period":24,"value":13.0},{"sub":18,"period":25,"value":11.4},{"sub":18,"period":26,"value":11.8},{"sub":18,"period":27,"value":11.7},{"sub":18,"period":28,"value":11.6},{"sub":18,"period":29,"value":11.8},{"sub":18,"period":30,"value":12.0},
{"sub":18,"period":31,"value":12.1},{"sub":18,"period":32,"value":12.0},{"sub":18,"period":33,"value":12.75},{"sub":18,"period":34,"value":12.2},{"sub":18,"period":35,"value":12.0},{"sub":18,"period":36,"value":12.3},{"sub":18,"period":37,"value":11.8},{"sub":18,"period":38,"value":11.8},{"sub":18,"period":39,"value":12.3},{"sub":18,"period":40,"value":12.1},
{"sub":18,"period":41,"value":12.05},{"sub":18,"period":42,"value":12.3},{"sub":18,"period":43,"value":11.4},{"sub":18,"period":44,"value":12.1},{"sub":18,"period":45,"value":11.7},{"sub":18,"period":46,"value":12.1},{"sub":18,"period":47,"value":12.5},{"sub":18,"period":48,"value":12.0},{"sub":18,"period":49,"value":12.2},{"sub":18,"period":50,"value":11.4},
{"sub":19,"period":1,"value":10.0},{"sub":19,"period":2,"value":13.1},{"sub":19,"period":3,"value":10.4},{"sub":19,"period":4,"value":11.3},{"sub":19,"period":5,"value":11.4},{"sub":19,"period":6,"value":12.05},{"sub":19,"period":7,"value":12.0},{"sub":19,"period":8,"value":11.8},{"sub":19,"period":9,"value":12.4},{"sub":19,"period":10,"value":12.0},
{"sub":19,"period":11,"value":11.8},{"sub":19,"period":12,"value":11.8},{"sub":19,"period":13,"value":12.2},{"sub":19,"period":14,"value":12.05},{"sub":19,"period":15,"value":12.1},{"sub":19,"period":16,"value":12.1},{"sub":19,"period":17,"value":12.1},{"sub":19,"period":18,"value":12.1},{"sub":19,"period":19,"value":12.1},{"sub":19,"period":20,"value":12.1},
{"sub":19,"period":21,"value":12.1},{"sub":19,"period":22,"value":12.1},{"sub":19,"period":23,"value":12.1},{"sub":19,"period":24,"value":12.1},{"sub":19,"period":25,"value":12.1},{"sub":19,"period":26,"value":12.5},{"sub":19,"period":27,"value":12.1},{"sub":19,"period":28,"value":12.0},{"sub":19,"period":29,"value":12.0},{"sub":19,"period":30,"value":12.0},
{"sub":19,"period":31,"value":12.0},{"sub":19,"period":32,"value":12.1},{"sub":19,"period":33,"value":12.2},{"sub":19,"period":34,"value":12.1},{"sub":19,"period":35,"value":12.0},{"sub":19,"period":36,"value":11.9},{"sub":19,"period":37,"value":11.8},{"sub":19,"period":38,"value":12.0},{"sub":19,"period":39,"value":12.2},{"sub":19,"period":40,"value":12.1},
{"sub":19,"period":41,"value":12.0},{"sub":19,"period":42,"value":11.9},{"sub":19,"period":43,"value":11.8},{"sub":19,"period":44,"value":12.0},{"sub":19,"period":45,"value":12.1},{"sub":19,"period":46,"value":12.3},{"sub":19,"period":47,"value":12.3},{"sub":19,"period":48,"value":12.3},{"sub":19,"period":49,"value":12.3},{"sub":19,"period":50,"value":12.0},
{"sub":20,"period":1,"value":11.6},{"sub":20,"period":2,"value":11.6},{"sub":20,"period":3,"value":11.85},{"sub":20,"period":4,"value":12.2},{"sub":20,"period":5,"value":12.85},{"sub":20,"period":6,"value":12.0},{"sub":20,"period":7,"value":12.0},{"sub":20,"period":8,"value":12.0},{"sub":20,"period":9,"value":11.6},{"sub":20,"period":10,"value":12.0},
{"sub":20,"period":11,"value":11.9},{"sub":20,"period":12,"value":11.9},{"sub":20,"period":13,"value":11.95},{"sub":20,"period":14,"value":11.95},{"sub":20,"period":15,"value":11.95},{"sub":20,"period":16,"value":11.95},{"sub":20,"period":17,"value":12.5},{"sub":20,"period":18,"value":11.95},{"sub":20,"period":19,"value":12.0},{"sub":20,"period":20,"value":12.0},
{"sub":20,"period":21,"value":12.2},{"sub":20,"period":22,"value":12.0},{"sub":20,"period":23,"value":11.95},{"sub":20,"period":24,"value":11.95},{"sub":20,"period":25,"value":12.0},{"sub":20,"period":26,"value":12.1},{"sub":20,"period":27,"value":12.0},{"sub":20,"period":28,"value":11.95},{"sub":20,"period":29,"value":11.95},{"sub":20,"period":30,"value":11.95},
{"sub":20,"period":31,"value":12.5},{"sub":20,"period":32,"value":12.0},{"sub":20,"period":33,"value":11.95},{"sub":20,"period":34,"value":11.95},{"sub":20,"period":35,"value":11.95},{"sub":20,"period":36,"value":11.95},{"sub":20,"period":37,"value":12.2},{"sub":20,"period":38,"value":11.7},{"sub":20,"period":39,"value":12.0},{"sub":20,"period":40,"value":11.95},
{"sub":20,"period":41,"value":12.0},{"sub":20,"period":42,"value":12.0},{"sub":20,"period":43,"value":11.95},{"sub":20,"period":44,"value":11.95},{"sub":20,"period":45,"value":11.95},{"sub":20,"period":46,"value":11.95},{"sub":20,"period":47,"value":11.95},{"sub":20,"period":48,"value":11.95},{"sub":20,"period":49,"value":12.0},{"sub":20,"period":50,"value":11.95},
{"sub":21,"period":1,"value":10.0},{"sub":21,"period":2,"value":11.6},{"sub":21,"period":3,"value":12.05},{"sub":21,"period":4,"value":12.05},{"sub":21,"period":5,"value":12.0},{"sub":21,"period":6,"value":12.1},{"sub":21,"period":7,"value":12.05},{"sub":21,"period":8,"value":12.1},{"sub":21,"period":9,"value":12.0},{"sub":21,"period":10,"value":12.05},
{"sub":21,"period":11,"value":12.0},{"sub":21,"period":12,"value":12.0},{"sub":21,"period":13,"value":12.1},{"sub":21,"period":14,"value":12.0},{"sub":21,"period":15,"value":12.05},{"sub":21,"period":16,"value":12.1},{"sub":21,"period":17,"value":12.05},{"sub":21,"period":18,"value":12.0},{"sub":21,"period":19,"value":12.05},{"sub":21,"period":20,"value":12.0},
{"sub":21,"period":21,"value":12.05},{"sub":21,"period":22,"value":12.1},{"sub":21,"period":23,"value":12.2},{"sub":21,"period":24,"value":12.3},{"sub":21,"period":25,"value":12.4},{"sub":21,"period":26,"value":12.55},{"sub":21,"period":27,"value":12.35},{"sub":21,"period":28,"value":12.1},{"sub":21,"period":29,"value":12.0},{"sub":21,"period":30,"value":12.0},
{"sub":21,"period":31,"value":12.1},{"sub":21,"period":32,"value":12.0},{"sub":21,"period":33,"value":12.4},{"sub":21,"period":34,"value":12.1},{"sub":21,"period":35,"value":12.0},{"sub":21,"period":36,"value":11.95},{"sub":21,"period":37,"value":11.9},{"sub":21,"period":38,"value":12.0},{"sub":21,"period":39,"value":12.1},{"sub":21,"period":40,"value":12.0},
{"sub":21,"period":41,"value":12.0},{"sub":21,"period":42,"value":12.0},{"sub":21,"period":43,"value":12.0},{"sub":21,"period":44,"value":11.6},{"sub":21,"period":45,"value":12.1},{"sub":21,"period":46,"value":12.2},{"sub":21,"period":47,"value":12.4},{"sub":21,"period":48,"value":12.4},{"sub":21,"period":49,"value":12.3},{"sub":21,"period":50,"value":12.0},
{"sub":22,"period":1,"value":17.7},{"sub":22,"period":2,"value":10.1},{"sub":22,"period":3,"value":12.4},{"sub":22,"period":4,"value":10.0},{"sub":22,"period":5,"value":13.2},{"sub":22,"period":6,"value":12.65},{"sub":22,"period":7,"value":12.5},{"sub":22,"period":8,"value":11.6},{"sub":22,"period":9,"value":12.85},{"sub":22,"period":10,"value":11.2},
{"sub":22,"period":11,"value":12.75},{"sub":22,"period":12,"value":11.6},{"sub":22,"period":13,"value":11.05},{"sub":22,"period":14,"value":12.5},{"sub":22,"period":15,"value":11.7},{"sub":22,"period":16,"value":11.6},{"sub":22,"period":17,"value":12.6},{"sub":22,"period":18,"value":11.8},{"sub":22,"period":19,"value":12.5},{"sub":22,"period":20,"value":12.75},
{"sub":22,"period":21,"value":11.3},{"sub":22,"period":22,"value":12.0},{"sub":22,"period":23,"value":12.05},{"sub":22,"period":24,"value":12.0},{"sub":22,"period":25,"value":11.85},{"sub":22,"period":26,"value":11.8},{"sub":22,"period":27,"value":11.85},{"sub":22,"period":28,"value":12.0},{"sub":22,"period":29,"value":12.0},{"sub":22,"period":30,"value":12.0},
{"sub":22,"period":31,"value":12.0},{"sub":22,"period":32,"value":12.05},{"sub":22,"period":33,"value":12.05},{"sub":22,"period":34,"value":12.05},{"sub":22,"period":35,"value":12.1},{"sub":22,"period":36,"value":12.1},{"sub":22,"period":37,"value":12.0},{"sub":22,"period":38,"value":12.0},{"sub":22,"period":39,"value":12.1},{"sub":22,"period":40,"value":12.0},
{"sub":22,"period":41,"value":12.05},{"sub":22,"period":42,"value":12.05},{"sub":22,"period":43,"value":12.1},{"sub":22,"period":44,"value":12.0},{"sub":22,"period":45,"value":12.0},{"sub":22,"period":46,"value":12.0},{"sub":22,"period":47,"value":12.0},{"sub":22,"period":48,"value":12.0},{"sub":22,"period":49,"value":12.05},{"sub":22,"period":50,"value":12.2},
{"sub":23,"period":1,"value":10.0},{"sub":23,"period":2,"value":13.4},{"sub":23,"period":3,"value":11.55},{"sub":23,"period":4,"value":11.55},{"sub":23,"period":5,"value":11.55},{"sub":23,"period":6,"value":11.3},{"sub":23,"period":7,"value":11.55},{"sub":23,"period":8,"value":11.7},{"sub":23,"period":9,"value":12.0},{"sub":23,"period":10,"value":11.85},
{"sub":23,"period":11,"value":12.0},{"sub":23,"period":12,"value":12.05},{"sub":23,"period":13,"value":12.05},{"sub":23,"period":14,"value":12.05},{"sub":23,"period":15,"value":12.05},{"sub":23,"period":16,"value":12.05},{"sub":23,"period":17,"value":12.2},{"sub":23,"period":18,"value":12.1},{"sub":23,"period":19,"value":12.1},{"sub":23,"period":20,"value":12.05},
{"sub":23,"period":21,"value":12.0},{"sub":23,"period":22,"value":12.0},{"sub":23,"period":23,"value":12.0},{"sub":23,"period":24,"value":12.1},{"sub":23,"period":25,"value":12.0},{"sub":23,"period":26,"value":12.3},{"sub":23,"period":27,"value":12.0},{"sub":23,"period":28,"value":11.95},{"sub":23,"period":29,"value":11.95},{"sub":23,"period":30,"value":12.0},
{"sub":23,"period":31,"value":12.0},{"sub":23,"period":32,"value":12.0},{"sub":23,"period":33,"value":12.0},{"sub":23,"period":34,"value":12.0},{"sub":23,"period":35,"value":12.0},{"sub":23,"period":36,"value":12.0},{"sub":23,"period":37,"value":12.0},{"sub":23,"period":38,"value":12.0},{"sub":23,"period":39,"value":12.0},{"sub":23,"period":40,"value":12.0},
{"sub":23,"period":41,"value":12.0},{"sub":23,"period":42,"value":12.0},{"sub":23,"period":43,"value":12.0},{"sub":23,"period":44,"value":12.0},{"sub":23,"period":45,"value":11.95},{"sub":23,"period":46,"value":12.2},{"sub":23,"period":47,"value":11.95},{"sub":23,"period":48,"value":12.1},{"sub":23,"period":49,"value":12.35},{"sub":23,"period":50,"value":12.0},
{"sub":24,"period":1,"value":10.5},{"sub":24,"period":2,"value":10.5},{"sub":24,"period":3,"value":13.3},{"sub":24,"period":4,"value":10.0},{"sub":24,"period":5,"value":12.9},{"sub":24,"period":6,"value":12.75},{"sub":24,"period":7,"value":12.0},{"sub":24,"period":8,"value":13.3},{"sub":24,"period":9,"value":13.0},{"sub":24,"period":10,"value":12.05},
{"sub":24,"period":11,"value":12.85},{"sub":24,"period":12,"value":12.85},{"sub":24,"period":13,"value":11.6},{"sub":24,"period":14,"value":12.0},{"sub":24,"period":15,"value":11.3},{"sub":24,"period":16,"value":11.6},{"sub":24,"period":17,"value":11.55},{"sub":24,"period":18,"value":12.0},{"sub":24,"period":19,"value":12.2},{"sub":24,"period":20,"value":11.8},
{"sub":24,"period":21,"value":12.2},{"sub":24,"period":22,"value":12.5},{"sub":24,"period":23,"value":12.85},{"sub":24,"period":24,"value":11.6},{"sub":24,"period":25,"value":13.45},{"sub":24,"period":26,"value":12.5},{"sub":24,"period":27,"value":12.75},{"sub":24,"period":28,"value":12.1},{"sub":24,"period":29,"value":12.2},{"sub":24,"period":30,"value":11.8},
{"sub":24,"period":31,"value":11.8},{"sub":24,"period":32,"value":12.2},{"sub":24,"period":33,"value":11.7},{"sub":24,"period":34,"value":12.3},{"sub":24,"period":35,"value":11.8},{"sub":24,"period":36,"value":12.5},{"sub":24,"period":37,"value":12.0},{"sub":24,"period":38,"value":12.5},{"sub":24,"period":39,"value":12.2},{"sub":24,"period":40,"value":12.1},
{"sub":24,"period":41,"value":11.8},{"sub":24,"period":42,"value":11.8},{"sub":24,"period":43,"value":12.0},{"sub":24,"period":44,"value":11.6},{"sub":24,"period":45,"value":12.2},{"sub":24,"period":46,"value":12.2},{"sub":24,"period":47,"value":12.6},{"sub":24,"period":48,"value":11.55},{"sub":24,"period":49,"value":11.8},{"sub":24,"period":50,"value":12.0},
{"sub":25,"period":1,"value":11.6},{"sub":25,"period":2,"value":10.9},{"sub":25,"period":3,"value":10.15},{"sub":25,"period":4,"value":8.4},{"sub":25,"period":5,"value":13.5},{"sub":25,"period":6,"value":12.75},{"sub":25,"period":7,"value":11.7},{"sub":25,"period":8,"value":12.6},{"sub":25,"period":9,"value":12.1},{"sub":25,"period":10,"value":11.75},
{"sub":25,"period":11,"value":12.25},{"sub":25,"period":12,"value":11.95},{"sub":25,"period":13,"value":12.35},{"sub":25,"period":14,"value":12.35},{"sub":25,"period":15,"value":10.4},{"sub":25,"period":16,"value":12.0},{"sub":25,"period":17,"value":12.0},{"sub":25,"period":18,"value":12.35},{"sub":25,"period":19,"value":11.75},{"sub":25,"period":20,"value":12.25},
{"sub":25,"period":21,"value":12.1},{"sub":25,"period":22,"value":12.0},{"sub":25,"period":23,"value":12.0},{"sub":25,"period":24,"value":12.0},{"sub":25,"period":25,"value":11.75},{"sub":25,"period":26,"value":11.75},{"sub":25,"period":27,"value":12.0},{"sub":25,"period":28,"value":12.5},{"sub":25,"period":29,"value":11.75},{"sub":25,"period":30,"value":12.5},
{"sub":25,"period":31,"value":12.1},{"sub":25,"period":32,"value":11.85},{"sub":25,"period":33,"value":11.6},{"sub":25,"period":34,"value":12.8},{"sub":25,"period":35,"value":12.0},{"sub":25,"period":36,"value":12.0},{"sub":25,"period":37,"value":12.0},{"sub":25,"period":38,"value":12.1},{"sub":25,"period":39,"value":11.95},{"sub":25,"period":40,"value":12.35},
{"sub":25,"period":41,"value":12.1},{"sub":25,"period":42,"value":12.35},{"sub":25,"period":43,"value":12.1},{"sub":25,"period":44,"value":12.1},{"sub":25,"period":45,"value":12.6},{"sub":25,"period":46,"value":11.75},{"sub":25,"period":47,"value":12.0},{"sub":25,"period":48,"value":11.75},{"sub":25,"period":49,"value":11.95},{"sub":25,"period":50,"value":11.6},
{"sub":26,"period":1,"value":10.0},{"sub":26,"period":2,"value":12.6},{"sub":26,"period":3,"value":12.6},{"sub":26,"period":4,"value":12.25},{"sub":26,"period":5,"value":11.85},{"sub":26,"period":6,"value":11.4},{"sub":26,"period":7,"value":12.8},{"sub":26,"period":8,"value":11.95},{"sub":26,"period":9,"value":11.3},{"sub":26,"period":10,"value":11.3},
{"sub":26,"period":11,"value":12.25},{"sub":26,"period":12,"value":12.1},{"sub":26,"period":13,"value":12.1},{"sub":26,"period":14,"value":12.6},{"sub":26,"period":15,"value":11.75},{"sub":26,"period":16,"value":11.5},{"sub":26,"period":17,"value":11.85},{"sub":26,"period":18,"value":12.0},{"sub":26,"period":19,"value":12.1},{"sub":26,"period":20,"value":12.0},
{"sub":26,"period":21,"value":12.0},{"sub":26,"period":22,"value":12.0},{"sub":26,"period":23,"value":12.1},{"sub":26,"period":24,"value":12.35},{"sub":26,"period":25,"value":12.1},{"sub":26,"period":26,"value":11.95},{"sub":26,"period":27,"value":11.75},{"sub":26,"period":28,"value":11.75},{"sub":26,"period":29,"value":12.1},{"sub":26,"period":30,"value":12.5},
{"sub":26,"period":31,"value":11.85},{"sub":26,"period":32,"value":11.95},{"sub":26,"period":33,"value":11.75},{"sub":26,"period":34,"value":12.25},{"sub":26,"period":35,"value":12.1},{"sub":26,"period":36,"value":12.1},{"sub":26,"period":37,"value":12.1},{"sub":26,"period":38,"value":12.0},{"sub":26,"period":39,"value":11.6},{"sub":26,"period":40,"value":11.75},
{"sub":26,"period":41,"value":11.95},{"sub":26,"period":42,"value":11.75},{"sub":26,"period":43,"value":12.0},{"sub":26,"period":44,"value":12.1},{"sub":26,"period":45,"value":12.0},{"sub":26,"period":46,"value":12.0},{"sub":26,"period":47,"value":11.95},{"sub":26,"period":48,"value":12.0},{"sub":26,"period":49,"value":12.1},{"sub":26,"period":50,"value":12.2},
{"sub":27,"period":1,"value":10.0},{"sub":27,"period":2,"value":13.05},{"sub":27,"period":3,"value":12.1},{"sub":27,"period":4,"value":12.25},{"sub":27,"period":5,"value":10.95},{"sub":27,"period":6,"value":12.0},{"sub":27,"period":7,"value":12.1},{"sub":27,"period":8,"value":12.75},{"sub":27,"period":9,"value":11.5},{"sub":27,"period":10,"value":11.75},
{"sub":27,"period":11,"value":11.75},{"sub":27,"period":12,"value":12.0},{"sub":27,"period":13,"value":11.75},{"sub":27,"period":14,"value":11.85},{"sub":27,"period":15,"value":10.9},{"sub":27,"period":16,"value":11.6},{"sub":27,"period":17,"value":12.25},{"sub":27,"period":18,"value":11.95},{"sub":27,"period":19,"value":12.35},{"sub":27,"period":20,"value":11.95},
{"sub":27,"period":21,"value":12.25},{"sub":27,"period":22,"value":11.95},{"sub":27,"period":23,"value":12.1},{"sub":27,"period":24,"value":12.5},{"sub":27,"period":25,"value":11.4},{"sub":27,"period":26,"value":12.1},{"sub":27,"period":27,"value":11.95},{"sub":27,"period":28,"value":11.85},{"sub":27,"period":29,"value":11.95},{"sub":27,"period":30,"value":12.1},
{"sub":27,"period":31,"value":12.25},{"sub":27,"period":32,"value":12.1},{"sub":27,"period":33,"value":12.6},{"sub":27,"period":34,"value":12.1},{"sub":27,"period":35,"value":12.1},{"sub":27,"period":36,"value":12.1},{"sub":27,"period":37,"value":12.1},{"sub":27,"period":38,"value":12.1},{"sub":27,"period":39,"value":12.1},{"sub":27,"period":40,"value":12.25},
{"sub":27,"period":41,"value":12.25},{"sub":27,"period":42,"value":12.25},{"sub":27,"period":43,"value":12.25},{"sub":27,"period":44,"value":11.75},{"sub":27,"period":45,"value":12.25},{"sub":27,"period":46,"value":12.25},{"sub":27,"period":47,"value":11.75},{"sub":27,"period":48,"value":12.25},{"sub":27,"period":49,"value":12.1},{"sub":27,"period":50,"value":11.75},
{"sub":28,"period":1,"value":6.5},{"sub":28,"period":2,"value":10.5},{"sub":28,"period":3,"value":12.75},{"sub":28,"period":4,"value":11.05},{"sub":28,"period":5,"value":11.95},{"sub":28,"period":6,"value":12.35},{"sub":28,"period":7,"value":11.75},{"sub":28,"period":8,"value":12.5},{"sub":28,"period":9,"value":11.4},{"sub":28,"period":10,"value":11.3},
{"sub":28,"period":11,"value":12.0},{"sub":28,"period":12,"value":11.75},{"sub":28,"period":13,"value":11.75},{"sub":28,"period":14,"value":13.25},{"sub":28,"period":15,"value":12.8},{"sub":28,"period":16,"value":10.25},{"sub":28,"period":17,"value":11.3},{"sub":28,"period":18,"value":11.85},{"sub":28,"period":19,"value":11.3},{"sub":28,"period":20,"value":13.15},
{"sub":28,"period":21,"value":11.6},{"sub":28,"period":22,"value":13.6},{"sub":28,"period":23,"value":10.5},{"sub":28,"period":24,"value":12.6},{"sub":28,"period":25,"value":14.3},{"sub":28,"period":26,"value":12.9},{"sub":28,"period":27,"value":11.6},{"sub":28,"period":28,"value":11.75},{"sub":28,"period":29,"value":12.1},{"sub":28,"period":30,"value":10.5},
{"sub":28,"period":31,"value":12.5},{"sub":28,"period":32,"value":12.1},{"sub":28,"period":33,"value":12.1},{"sub":28,"period":34,"value":12.1},{"sub":28,"period":35,"value":11.95},{"sub":28,"period":36,"value":12.35},{"sub":28,"period":37,"value":11.75},{"sub":28,"period":38,"value":12.1},{"sub":28,"period":39,"value":11.3},{"sub":28,"period":40,"value":12.1},
{"sub":28,"period":41,"value":11.95},{"sub":28,"period":42,"value":12.2},{"sub":28,"period":43,"value":12.5},{"sub":28,"period":44,"value":11.85},{"sub":28,"period":45,"value":12.35},{"sub":28,"period":46,"value":12.0},{"sub":28,"period":47,"value":12.0},{"sub":28,"period":48,"value":12.0},{"sub":28,"period":49,"value":12.0},{"sub":28,"period":50,"value":12.0},
{"sub":29,"period":1,"value":8.5},{"sub":29,"period":2,"value":14.3},{"sub":29,"period":3,"value":10.15},{"sub":29,"period":4,"value":12.1},{"sub":29,"period":5,"value":11.95},{"sub":29,"period":6,"value":10.95},{"sub":29,"period":7,"value":12.25},{"sub":29,"period":8,"value":11.95},{"sub":29,"period":9,"value":11.85},{"sub":29,"period":10,"value":11.85},
{"sub":29,"period":11,"value":12.5},{"sub":29,"period":12,"value":11.6},{"sub":29,"period":13,"value":12.8},{"sub":29,"period":14,"value":11.75},{"sub":29,"period":15,"value":11.85},{"sub":29,"period":16,"value":11.6},{"sub":29,"period":17,"value":12.5},{"sub":29,"period":18,"value":11.85},{"sub":29,"period":19,"value":11.6},{"sub":29,"period":20,"value":12.0},
{"sub":29,"period":21,"value":11.85},{"sub":29,"period":22,"value":11.85},{"sub":29,"period":23,"value":12.0},{"sub":29,"period":24,"value":12.1},{"sub":29,"period":25,"value":11.05},{"sub":29,"period":26,"value":12.8},{"sub":29,"period":27,"value":11.95},{"sub":29,"period":28,"value":12.5},{"sub":29,"period":29,"value":11.3},{"sub":29,"period":30,"value":11.95},
{"sub":29,"period":31,"value":12.35},{"sub":29,"period":32,"value":11.95},{"sub":29,"period":33,"value":13.15},{"sub":29,"period":34,"value":11.75},{"sub":29,"period":35,"value":11.75},{"sub":29,"period":36,"value":12.35},{"sub":29,"period":37,"value":11.75},{"sub":29,"period":38,"value":12.1},{"sub":29,"period":39,"value":12.1},{"sub":29,"period":40,"value":12.25},
{"sub":29,"period":41,"value":11.75},{"sub":29,"period":42,"value":12.6},{"sub":29,"period":43,"value":11.75},{"sub":29,"period":44,"value":11.95},{"sub":29,"period":45,"value":12.35},{"sub":29,"period":46,"value":11.95},{"sub":29,"period":47,"value":11.95},{"sub":29,"period":48,"value":12.0},{"sub":29,"period":49,"value":11.95},{"sub":29,"period":50,"value":12.0},
{"sub":30,"period":1,"value":8.6},{"sub":30,"period":2,"value":13.95},{"sub":30,"period":3,"value":11.4},{"sub":30,"period":4,"value":13.05},{"sub":30,"period":5,"value":10.8},{"sub":30,"period":6,"value":11.05},{"sub":30,"period":7,"value":11.15},{"sub":30,"period":8,"value":12.35},{"sub":30,"period":9,"value":12.75},{"sub":30,"period":10,"value":11.95},
{"sub":30,"period":11,"value":11.6},{"sub":30,"period":12,"value":12.25},{"sub":30,"period":13,"value":10.15},{"sub":30,"period":14,"value":13.0},{"sub":30,"period":15,"value":12.5},{"sub":30,"period":16,"value":12.25},{"sub":30,"period":17,"value":12.35},{"sub":30,"period":18,"value":12.6},{"sub":30,"period":19,"value":11.75},{"sub":30,"period":20,"value":11.85},
{"sub":30,"period":21,"value":12.1},{"sub":30,"period":22,"value":11.95},{"sub":30,"period":23,"value":12.5},{"sub":30,"period":24,"value":12.35},{"sub":30,"period":25,"value":11.75},{"sub":30,"period":26,"value":12.6},{"sub":30,"period":27,"value":12.5},{"sub":30,"period":28,"value":11.95},{"sub":30,"period":29,"value":11.75},{"sub":30,"period":30,"value":12.0},
{"sub":30,"period":31,"value":12.0},{"sub":30,"period":32,"value":11.95},{"sub":30,"period":33,"value":12.5},{"sub":30,"period":34,"value":11.75},{"sub":30,"period":35,"value":12.25},{"sub":30,"period":36,"value":11.7},{"sub":30,"period":37,"value":12.25},{"sub":30,"period":38,"value":11.4},{"sub":30,"period":39,"value":12.5},{"sub":30,"period":40,"value":11.85},
{"sub":30,"period":41,"value":12.1},{"sub":30,"period":42,"value":12.0},{"sub":30,"period":43,"value":11.95},{"sub":30,"period":44,"value":11.3},{"sub":30,"period":45,"value":12.35},{"sub":30,"period":46,"value":12.35},{"sub":30,"period":47,"value":12.35},{"sub":30,"period":48,"value":12.1},{"sub":30,"period":49,"value":12.35},{"sub":30,"period":50,"value":11.75}
]},
"spacing": 13,
"vconcat": [
  {
    "title": {"text": "a+10b", "orient": "left", "anchor": "middle", "fontSize": 35, "fontWeight": "normal", "color": "#000000", "offset": 18},
    "facet": {"field": "sub", "type": "ordinal", "title": null, "header": {"labelExpr": "''", "labelFontSize": 0, "labelPadding": 0, "labelLimit": 1}},
    "columns": 6,
    "spacing": {"row": 24, "column": 24},
    "spec": {
      "width": 190,
      "height": 134,
      "layer": [
        {
          "transform": [{"filter": "datum.period == 1"}],
          "mark": {"type": "rect", "color": "#d9e5eb"},
          "encoding": {
            "x": {"datum": -2.6, "type": "quantitative", "title": null},
            "x2": {"datum": 52.8},
            "y": {"datum": 21.45, "type": "quantitative", "title": null},
            "y2": {"datum": 24.6}
          }
        },
        {
          "transform": [{"filter": "datum.period == 1"}],
          "mark": {"type": "text", "fontSize": 15, "color": "#000000", "baseline": "middle", "align": "center"},
          "encoding": {
            "x": {"datum": 25.1, "type": "quantitative", "title": null},
            "y": {"datum": 23.0, "type": "quantitative", "title": null},
            "text": {"field": "sub", "type": "nominal"}
          }
        },
        {
          "transform": [{"filter": "datum.period == 1 && datum.sub % 6 == 1"}],
          "mark": {"type": "rule", "color": "#333333", "strokeWidth": 1.2},
          "encoding": {
            "x": {"datum": -2.6, "type": "quantitative", "title": null},
            "y": {"datum": 3.5, "type": "quantitative", "title": null},
            "y2": {"datum": 21.45}
          }
        },
        {
          "mark": {"type": "line", "color": "#1a476f", "strokeWidth": 1.2},
          "encoding": {
            "x": {"field": "period", "type": "quantitative", "title": null, "scale": {"domain": [-2.6, 52.8], "nice": false, "zero": false}, "axis": {"values": [0, 50]}},
            "y": {"field": "value", "type": "quantitative", "title": null, "scale": {"domain": [3.5, 24.6], "nice": false, "zero": false}, "axis": {"values": [5, 10, 15, 20]}}
          }
        }
      ]
    }
  },
  {
    "spacing": 0,
    "vconcat": [
      {
        "data": {"values": [{"label": "period"}]},
        "width": 1,
        "height": 1,
        "view": {"fill": null, "stroke": null},
        "mark": {"type": "point", "opacity": 0},
        "encoding": {},
        "title": {"text": "period", "anchor": "start", "align": "center", "fontSize": 35, "fontWeight": "normal", "color": "#000000", "dx": 620, "offset": 0}
      },
      {
        "data": {"values": [{"label": "Graphs by sub"}]},
        "width": 1,
        "height": 1,
        "view": {"fill": null, "stroke": null},
        "mark": {"type": "point", "opacity": 0},
        "encoding": {},
        "title": {"text": "Graphs by sub", "anchor": "start", "fontSize": 28, "fontWeight": "normal", "color": "#000000", "dx": -29, "offset": 0}
      }
    ]
  }
]
}
